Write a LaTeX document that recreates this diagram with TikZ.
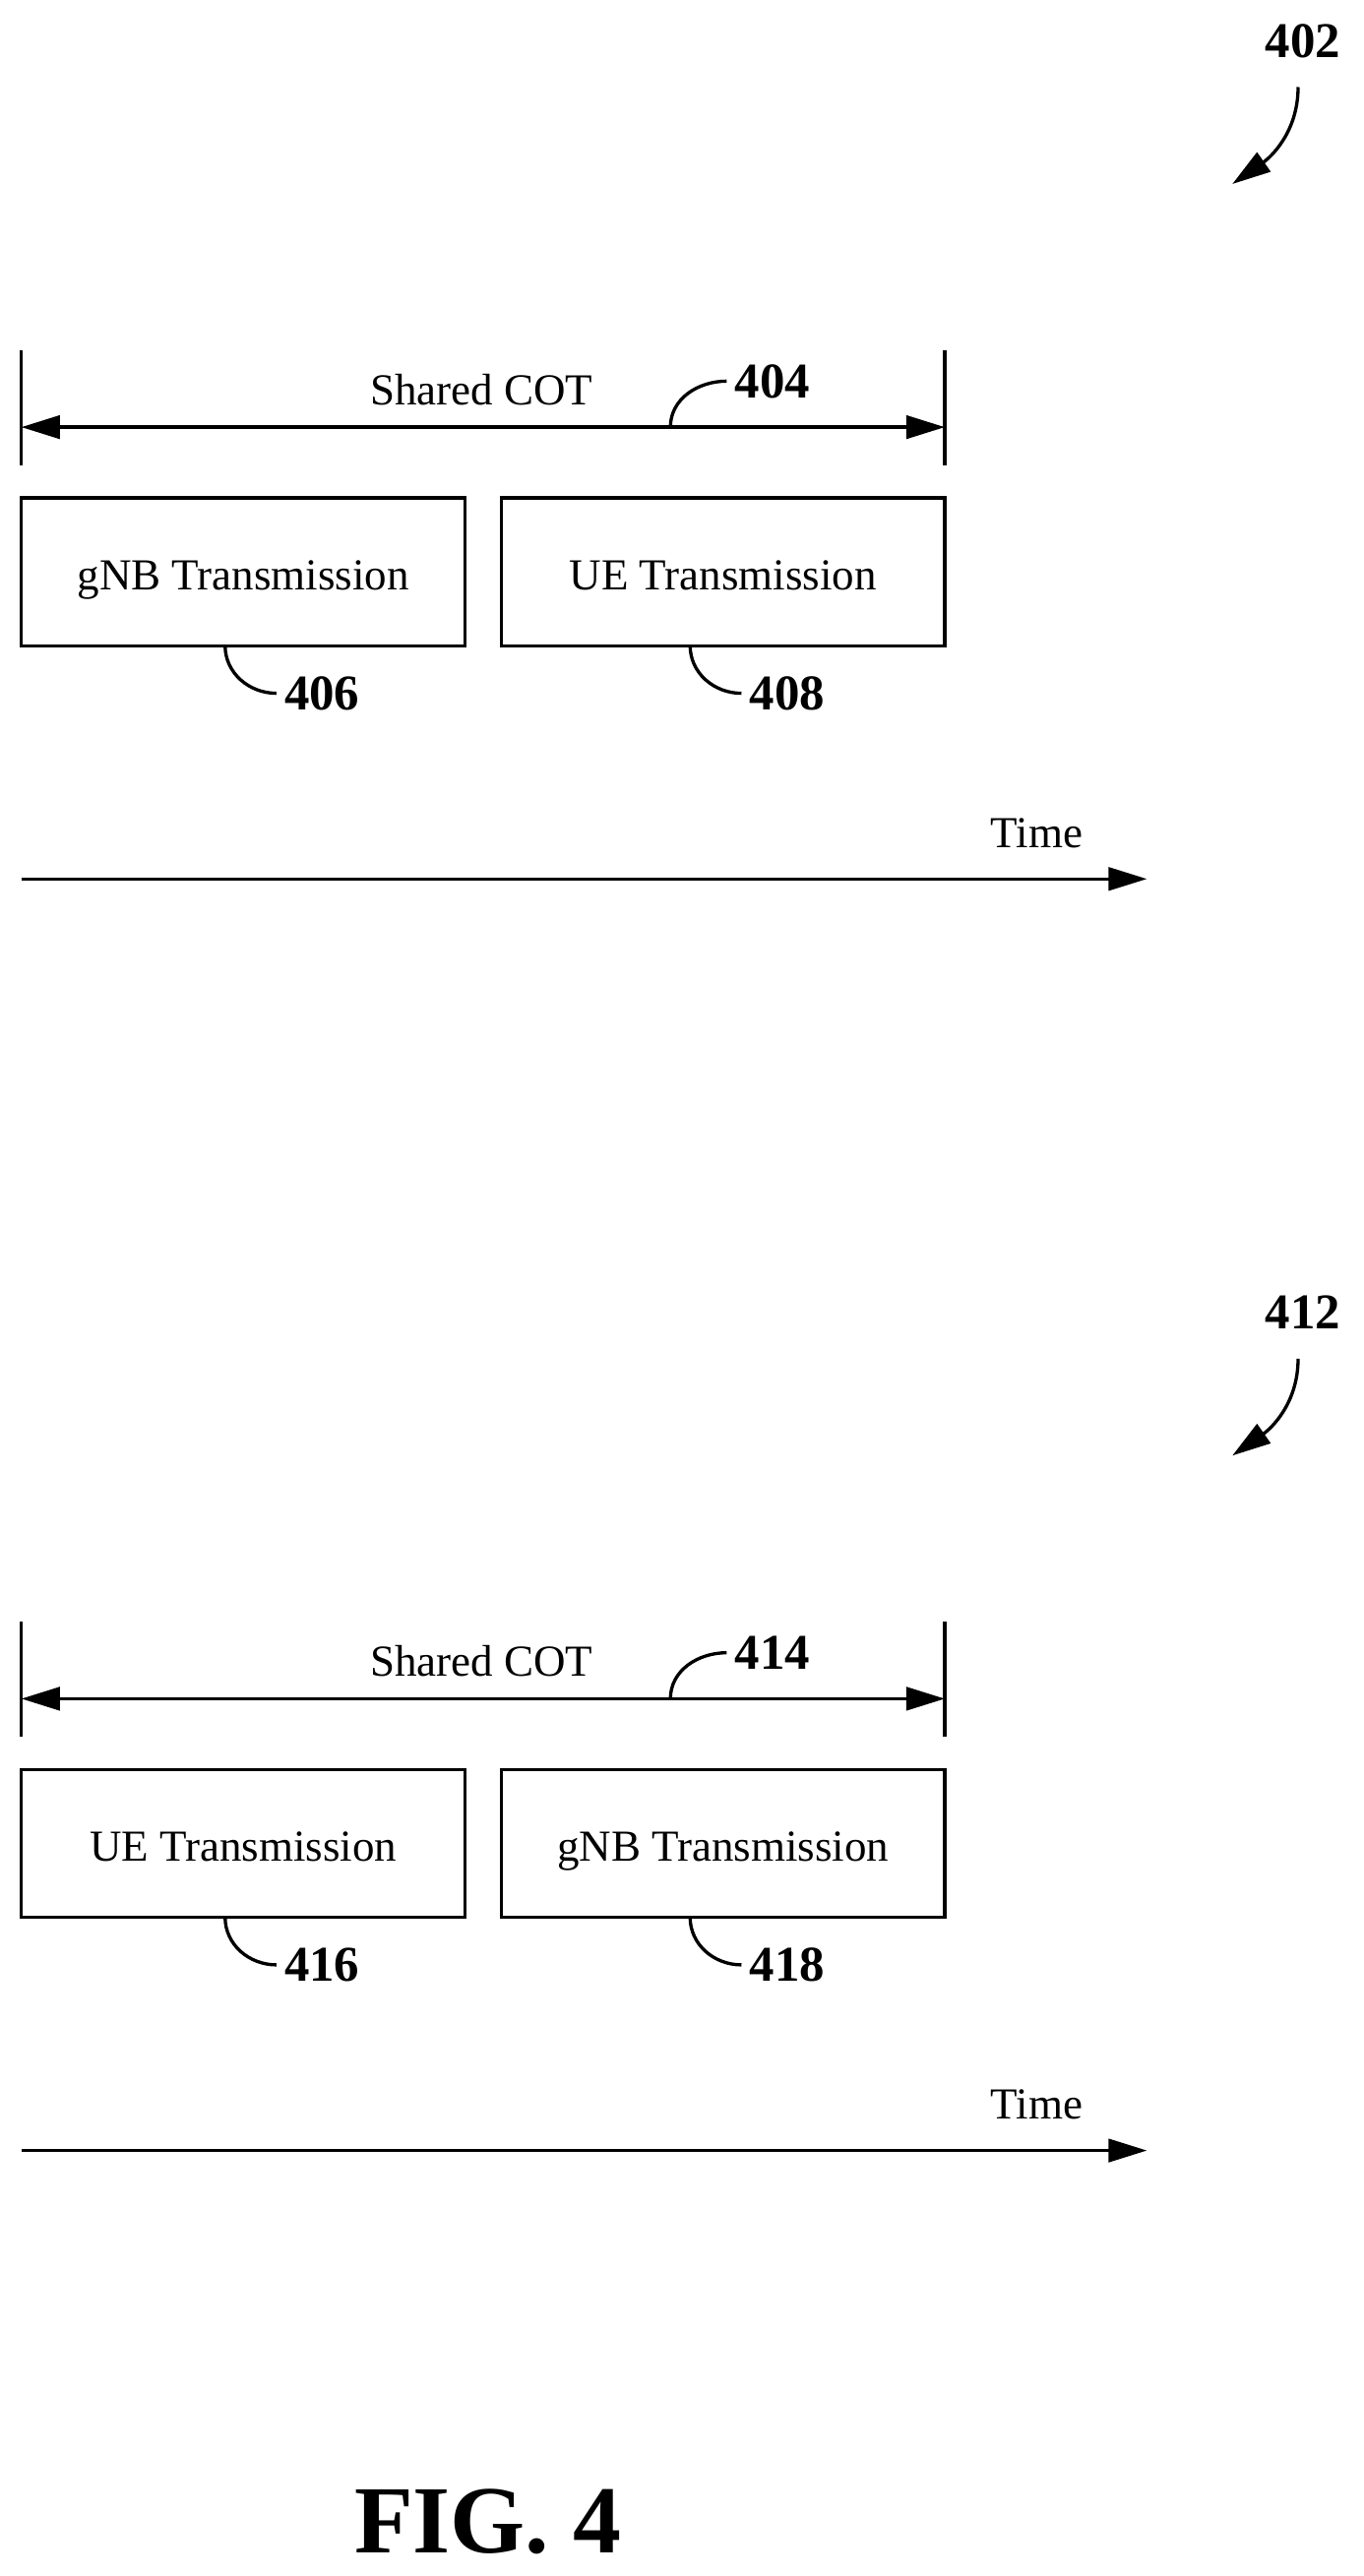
\documentclass[tikz,border=0pt]{standalone}
\usepackage{fontspec}
\setmainfont{Liberation Serif}
\usetikzlibrary{arrows.meta,positioning}
\begin{document}
\begin{tikzpicture}[x=0.03cm, y=-0.03cm,
  line width=1.7pt,
  txt/.style={font=\fontsize{23}{26}\selectfont},
  ref/.style={font=\fontsize{26}{28}\selectfont\bfseries},
  block/.style={draw, line width=1.7pt, minimum width=270*0.03cm, minimum height=90*0.03cm,
    text height=23pt, text depth=4pt, txt},
  arrow/.style={-{Triangle[length=20pt,width=12pt]}},
  darrow/.style={{Triangle[length=20pt,width=12pt]}-{Triangle[length=20pt,width=12pt]}}
]
\useasboundingbox (0,0) rectangle (830,1568);

\foreach \dy/\fig/\cot/\la/\lb/\ta/\tb in {0/402/404/406/408/gNB/UE, 774/412/414/416/418/UE/gNB}{
  \begin{scope}[yshift=-\dy*0.03cm]
  % reference number of the panel
  \node[ref] (fig) at (793,25) {\fig};
  \coordinate (fs) at (790,53);
  \coordinate (fe) at (750,112);
  \draw[arrow] (fs) to[out=-90, in=35] (fe);

  % shared COT bracket
  \coordinate (l1) at (13,213);  \coordinate (l2) at (13,283);
  \coordinate (r1) at (575,213); \coordinate (r2) at (575,283);
  \draw (l1) -- (l2);
  \draw (r1) -- (r2);
  \coordinate (cl) at (13,260); \coordinate (cr) at (575,260);
  \draw[darrow] (cl) -- (cr);
  \node[txt] (cot) at (293,237) {Shared COT};
  \node[ref] (cotn) at (470,232) {\cot};
  \coordinate (cs) at (408,260);
  \draw (cs) to[out=90, in=180] (cotn.west);

  % transmissions
  \node[block] (ba) at (148,348) {\ta{} Transmission};
  \node[block] (bb) at (440,348) {\tb{} Transmission};
  \node[ref] (na) at (196,422) {\la};
  \node[ref] (nb) at (479,422) {\lb};
  \coordinate (sa) at (137,393);
  \coordinate (sb) at (420,393);
  \draw (sa) to[out=-90, in=180] (na.west);
  \draw (sb) to[out=-90, in=180] (nb.west);

  % time axis
  \coordinate (t0) at (13,535);
  \coordinate (t1) at (698,535);
  \draw[arrow] (t0) -- (t1);
  \node[txt] (time) at (631,507) {Time};
  \end{scope}
}

\node[font=\fontsize{50}{54}\selectfont\bfseries] (cap) at (297,1535) {FIG. 4};
\end{tikzpicture}
\end{document}
